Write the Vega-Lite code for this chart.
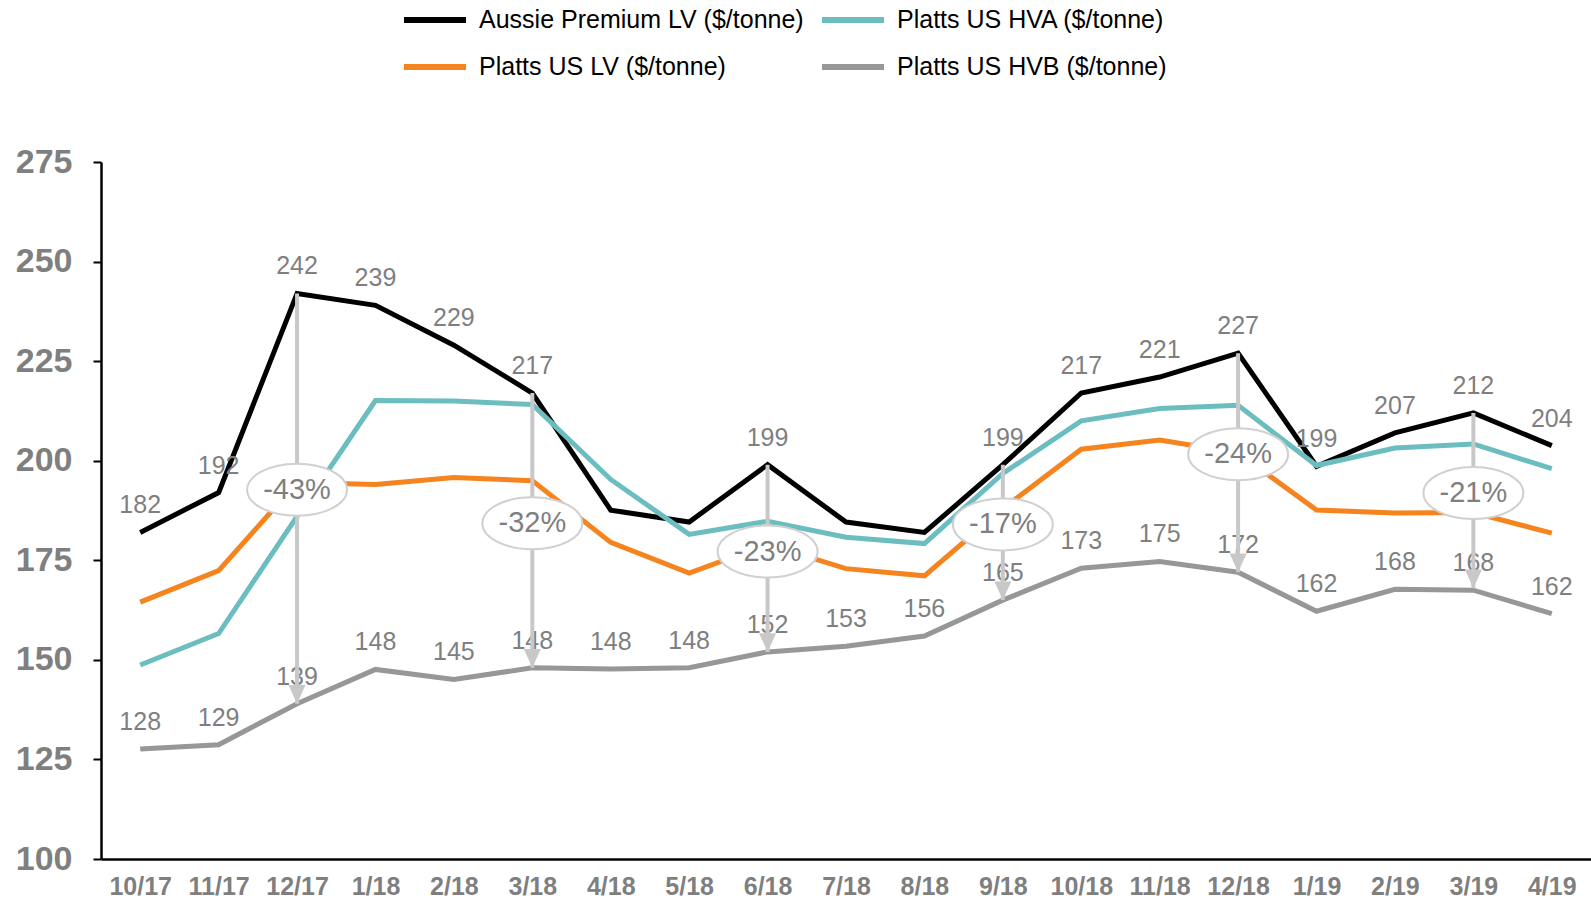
{
  "$schema": "https://vega.github.io/schema/vega-lite/v6.json",
  "width": 1490,
  "height": 697,
  "autosize": {"type": "none"},
  "padding": {"left": 101, "top": 162, "right": 0, "bottom": 41},
  "background": "white",
  "config": {
    "view": {"stroke": null},
    "font": "Liberation Sans",
    "axisY": {
      "grid": false,
      "domainColor": "#000000",
      "domainWidth": 2.5,
      "tickColor": "#000000",
      "tickSize": 8,
      "tickWidth": 2,
      "labelFont": "Liberation Sans",
      "labelFontWeight": "bold",
      "labelFontSize": 34,
      "labelColor": "#7f7f7f",
      "labelPadding": 21
    }
  },
  "datasets": {
    "prices": [
      {"month": "10/17", "series": "Aussie Premium LV ($/tonne)", "value": 182},
      {"month": "11/17", "series": "Aussie Premium LV ($/tonne)", "value": 192},
      {"month": "12/17", "series": "Aussie Premium LV ($/tonne)", "value": 242},
      {"month": "1/18", "series": "Aussie Premium LV ($/tonne)", "value": 239},
      {"month": "2/18", "series": "Aussie Premium LV ($/tonne)", "value": 229},
      {"month": "3/18", "series": "Aussie Premium LV ($/tonne)", "value": 217},
      {"month": "4/18", "series": "Aussie Premium LV ($/tonne)", "value": 187.6},
      {"month": "5/18", "series": "Aussie Premium LV ($/tonne)", "value": 184.6},
      {"month": "6/18", "series": "Aussie Premium LV ($/tonne)", "value": 199},
      {"month": "7/18", "series": "Aussie Premium LV ($/tonne)", "value": 184.6},
      {"month": "8/18", "series": "Aussie Premium LV ($/tonne)", "value": 182},
      {"month": "9/18", "series": "Aussie Premium LV ($/tonne)", "value": 199},
      {"month": "10/18", "series": "Aussie Premium LV ($/tonne)", "value": 217},
      {"month": "11/18", "series": "Aussie Premium LV ($/tonne)", "value": 221},
      {"month": "12/18", "series": "Aussie Premium LV ($/tonne)", "value": 227},
      {"month": "1/19", "series": "Aussie Premium LV ($/tonne)", "value": 198.6},
      {"month": "2/19", "series": "Aussie Premium LV ($/tonne)", "value": 207},
      {"month": "3/19", "series": "Aussie Premium LV ($/tonne)", "value": 212},
      {"month": "4/19", "series": "Aussie Premium LV ($/tonne)", "value": 203.8},
      {"month": "10/17", "series": "Platts US HVA ($/tonne)", "value": 148.7},
      {"month": "11/17", "series": "Platts US HVA ($/tonne)", "value": 156.6},
      {"month": "12/17", "series": "Platts US HVA ($/tonne)", "value": 186},
      {"month": "1/18", "series": "Platts US HVA ($/tonne)", "value": 215.1},
      {"month": "2/18", "series": "Platts US HVA ($/tonne)", "value": 215},
      {"month": "3/18", "series": "Platts US HVA ($/tonne)", "value": 214.1},
      {"month": "4/18", "series": "Platts US HVA ($/tonne)", "value": 195.3},
      {"month": "5/18", "series": "Platts US HVA ($/tonne)", "value": 181.5},
      {"month": "6/18", "series": "Platts US HVA ($/tonne)", "value": 184.8},
      {"month": "7/18", "series": "Platts US HVA ($/tonne)", "value": 180.8},
      {"month": "8/18", "series": "Platts US HVA ($/tonne)", "value": 179.2},
      {"month": "9/18", "series": "Platts US HVA ($/tonne)", "value": 196.8},
      {"month": "10/18", "series": "Platts US HVA ($/tonne)", "value": 210},
      {"month": "11/18", "series": "Platts US HVA ($/tonne)", "value": 213.1},
      {"month": "12/18", "series": "Platts US HVA ($/tonne)", "value": 213.9},
      {"month": "1/19", "series": "Platts US HVA ($/tonne)", "value": 198.8},
      {"month": "2/19", "series": "Platts US HVA ($/tonne)", "value": 203.2},
      {"month": "3/19", "series": "Platts US HVA ($/tonne)", "value": 204.2},
      {"month": "4/19", "series": "Platts US HVA ($/tonne)", "value": 198},
      {"month": "10/17", "series": "Platts US LV ($/tonne)", "value": 164.5},
      {"month": "11/17", "series": "Platts US LV ($/tonne)", "value": 172.4},
      {"month": "12/17", "series": "Platts US LV ($/tonne)", "value": 194.5},
      {"month": "1/18", "series": "Platts US LV ($/tonne)", "value": 194},
      {"month": "2/18", "series": "Platts US LV ($/tonne)", "value": 195.8},
      {"month": "3/18", "series": "Platts US LV ($/tonne)", "value": 195},
      {"month": "4/18", "series": "Platts US LV ($/tonne)", "value": 179.5},
      {"month": "5/18", "series": "Platts US LV ($/tonne)", "value": 171.8},
      {"month": "6/18", "series": "Platts US LV ($/tonne)", "value": 179},
      {"month": "7/18", "series": "Platts US LV ($/tonne)", "value": 172.9},
      {"month": "8/18", "series": "Platts US LV ($/tonne)", "value": 171.1},
      {"month": "9/18", "series": "Platts US LV ($/tonne)", "value": 188},
      {"month": "10/18", "series": "Platts US LV ($/tonne)", "value": 202.9},
      {"month": "11/18", "series": "Platts US LV ($/tonne)", "value": 205.2},
      {"month": "12/18", "series": "Platts US LV ($/tonne)", "value": 202},
      {"month": "1/19", "series": "Platts US LV ($/tonne)", "value": 187.6},
      {"month": "2/19", "series": "Platts US LV ($/tonne)", "value": 186.9},
      {"month": "3/19", "series": "Platts US LV ($/tonne)", "value": 187},
      {"month": "4/19", "series": "Platts US LV ($/tonne)", "value": 181.8},
      {"month": "10/17", "series": "Platts US HVB ($/tonne)", "value": 127.6},
      {"month": "11/17", "series": "Platts US HVB ($/tonne)", "value": 128.7},
      {"month": "12/17", "series": "Platts US HVB ($/tonne)", "value": 139},
      {"month": "1/18", "series": "Platts US HVB ($/tonne)", "value": 147.6},
      {"month": "2/18", "series": "Platts US HVB ($/tonne)", "value": 145.1},
      {"month": "3/18", "series": "Platts US HVB ($/tonne)", "value": 148},
      {"month": "4/18", "series": "Platts US HVB ($/tonne)", "value": 147.7},
      {"month": "5/18", "series": "Platts US HVB ($/tonne)", "value": 148},
      {"month": "6/18", "series": "Platts US HVB ($/tonne)", "value": 152},
      {"month": "7/18", "series": "Platts US HVB ($/tonne)", "value": 153.4},
      {"month": "8/18", "series": "Platts US HVB ($/tonne)", "value": 156},
      {"month": "9/18", "series": "Platts US HVB ($/tonne)", "value": 165},
      {"month": "10/18", "series": "Platts US HVB ($/tonne)", "value": 173},
      {"month": "11/18", "series": "Platts US HVB ($/tonne)", "value": 174.7},
      {"month": "12/18", "series": "Platts US HVB ($/tonne)", "value": 172},
      {"month": "1/19", "series": "Platts US HVB ($/tonne)", "value": 162.2},
      {"month": "2/19", "series": "Platts US HVB ($/tonne)", "value": 167.7},
      {"month": "3/19", "series": "Platts US HVB ($/tonne)", "value": 167.5},
      {"month": "4/19", "series": "Platts US HVB ($/tonne)", "value": 161.6}
    ],
    "arrows": [
      {"month": "12/17", "top": 242, "bottom": 139, "pct": "-43%", "labelAt": 192.7},
      {"month": "3/18", "top": 217, "bottom": 148, "pct": "-32%", "labelAt": 184.3},
      {"month": "6/18", "top": 199, "bottom": 152, "pct": "-23%", "labelAt": 177.2},
      {"month": "9/18", "top": 199, "bottom": 165, "pct": "-17%", "labelAt": 184.0},
      {"month": "12/18", "top": 227, "bottom": 172, "pct": "-24%", "labelAt": 201.6},
      {"month": "3/19", "top": 212, "bottom": 168, "pct": "-21%", "labelAt": 191.9}
    ]
  },
  "encoding": {
    "x": {
      "field": "month",
      "type": "ordinal",
      "scale": {"type": "point", "padding": 0.5, "domain": ["10/17","11/17","12/17","1/18","2/18","3/18","4/18","5/18","6/18","7/18","8/18","9/18","10/18","11/18","12/18","1/19","2/19","3/19","4/19"]},
      "axis": {
        "title": null,
        "labelAngle": 0,
        "domain": true,
        "domainColor": "#000000",
        "domainWidth": 2.5,
        "ticks": false,
        "tickSize": 0,
        "grid": false,
        "labelFont": "Liberation Sans",
        "labelFontWeight": "bold",
        "labelFontSize": 25,
        "labelColor": "#7f7f7f",
        "labelPadding": 15
      }
    }
  },
  "layer": [
    {
      "data": {"name": "prices"},
      "mark": {"type": "line", "strokeWidth": 5},
      "encoding": {
        "y": {
          "field": "value",
          "type": "quantitative",
          "scale": {"domain": [100, 275], "nice": false, "zero": false},
          "axis": {"title": null, "values": [100, 125, 150, 175, 200, 225, 250, 275]}
        },
        "color": {
          "field": "series",
          "type": "nominal",
          "scale": {
            "domain": ["Aussie Premium LV ($/tonne)", "Platts US LV ($/tonne)", "Platts US HVA ($/tonne)", "Platts US HVB ($/tonne)"],
            "range": ["#000000", "#f5841f", "#6cbdbf", "#979797"]
          },
          "legend": {
            "title": null,
            "orient": "none",
            "legendX": 300,
            "legendY": -176,
            "columns": 2,
            "padding": 0,
            "symbolType": "stroke",
            "symbolStrokeWidth": 6,
            "symbolSize": 3844,
            "labelFont": "Liberation Sans",
            "labelFontSize": 25,
            "labelColor": "#000000",
            "labelLimit": 500,
            "labelOffset": 10,
            "columnPadding": 6,
            "rowPadding": -12
          }
        }
      }
    },
    {
      "data": {"name": "prices"},
      "transform": [{"filter": "datum.series === 'Platts US HVB ($/tonne)' || (datum.series === 'Aussie Premium LV ($/tonne)' && indexof(['4/18','5/18','7/18','8/18'], datum.month) < 0)"}],
      "mark": {"type": "text", "dy": -27, "fontSize": 25, "font": "Liberation Sans", "color": "#7f7f7f"},
      "encoding": {
        "y": {"field": "value", "type": "quantitative", "axis": {"title": null, "values": [100, 125, 150, 175, 200, 225, 250, 275]}},
        "text": {"field": "value", "type": "quantitative", "format": ".0f"}
      }
    },
    {
      "data": {"name": "arrows"},
      "mark": {"type": "rule", "color": "#c8c8c8", "strokeWidth": 4},
      "encoding": {
        "y": {"field": "top", "type": "quantitative", "axis": {"title": null, "values": [100, 125, 150, 175, 200, 225, 250, 275]}},
        "y2": {"field": "bottom"}
      }
    },
    {
      "data": {"name": "arrows"},
      "mark": {"type": "point", "shape": "M-1,-2.2L1,-2.2L0,0Z", "filled": true, "size": 289, "color": "#c8c8c8", "opacity": 1},
      "encoding": {
        "y": {"field": "bottom", "type": "quantitative", "axis": {"title": null, "values": [100, 125, 150, 175, 200, 225, 250, 275]}}
      }
    },
    {
      "data": {"name": "arrows"},
      "mark": {"type": "point", "shape": "M-1,0A1,0.52,0,1,1,1,0A1,0.52,0,1,1,-1,0Z", "size": 10000, "fill": "#ffffff", "stroke": "#d0d0d0", "strokeWidth": 2, "opacity": 1, "filled": true},
      "encoding": {
        "y": {"field": "labelAt", "type": "quantitative", "axis": {"title": null, "values": [100, 125, 150, 175, 200, 225, 250, 275]}}
      }
    },
    {
      "data": {"name": "arrows"},
      "mark": {"type": "text", "fontSize": 29, "font": "Liberation Sans", "color": "#7f7f7f", "baseline": "middle"},
      "encoding": {
        "y": {"field": "labelAt", "type": "quantitative", "axis": {"title": null, "values": [100, 125, 150, 175, 200, 225, 250, 275]}},
        "text": {"field": "pct"}
      }
    }
  ]
}
